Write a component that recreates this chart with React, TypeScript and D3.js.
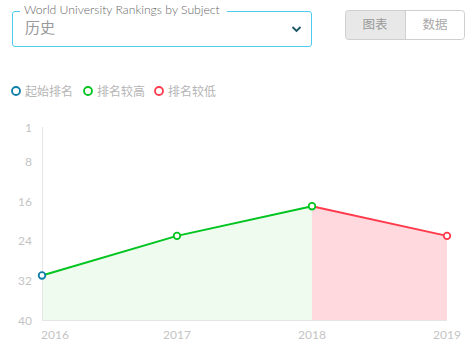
import React from "react";
import * as d3 from "d3";

const years = ["2016", "2017", "2018", "2019"];
const ranks = [31, 23, 17, 23];
const yTicks = [1, 8, 16, 24, 32, 40];
const legendLabels = ["起始排名", "排名较高", "排名较低"];
const legendColors = ["#0f7ea8", "#00c41f", "#ff3a4c"];

const FONT = "Lato, 'Noto Sans CJK SC', sans-serif";

export default function App() {
  const W = 476, H = 348;
  const x = d3.scalePoint<string>().domain(years).range([42, 447]);
  const y = d3.scaleLinear().domain([1, 40]).range([127, 320]);
  const baseline = y(40);

  const pts = years.map((yr, i) => ({ yr, v: ranks[i], x: x(yr) as number, y: y(ranks[i]) }));
  const segs = pts.slice(1).map((p, i) => {
    const a = pts[i];
    const up = p.v < a.v;
    return { a, b: p, up };
  });

  const line = d3.line<{ x: number; y: number }>().x(d => d.x).y(d => d.y);
  const area = d3.area<{ x: number; y: number }>().x(d => d.x).y0(baseline).y1(d => d.y);

  return (
    <svg width={W} height={H} style={{ position: "absolute", left: 0, top: 0, fontFamily: FONT }}>
      {/* dropdown */}
      <rect x={12.5} y={11.5} width={299} height={35} rx={2.5} fill="none" stroke="#4fcbed" strokeWidth={1} />
      <rect x={20} y={6} width={207} height={10} fill="#fff" />
      <text x={24} y={14} fontSize={12.2} fill="#666" fontWeight={300}>World University Rankings by Subject</text>
      <text x={25} y={33} fontSize={15} fill="#999">历史</text>
      <path d="M292.5,27 L296.5,31 L300.5,27" fill="none" stroke="#1b5566" strokeWidth={1.8} />

      {/* toggle buttons */}
      <path d="M405,10.5 L348.5,10.5 Q345.5,10.5 345.5,13.5 L345.5,36.5 Q345.5,39.5 348.5,39.5 L405,39.5 Z" fill="#e8e8e8" />
      <rect x={345.5} y={10.5} width={119} height={29} rx={3} fill="none" stroke="#cfcfcf" />
      <line x1={405.5} x2={405.5} y1={10.5} y2={39.5} stroke="#cfcfcf" />
      <text x={375} y={29} fontSize={12.5} fill="#999" textAnchor="middle">图表</text>
      <text x={435} y={29} fontSize={12.5} fill="#aaa" textAnchor="middle">数据</text>

      {/* legend */}
      {legendLabels.map((l, i) => {
        const cx = [16, 88, 159][i];
        return (
          <g key={l}>
            <circle cx={cx} cy={91} r={4} fill="#fff" stroke={legendColors[i]} strokeWidth={1.8} />
            <text x={cx + 9} y={95.5} fontSize={12} fill="#b5b5b5">{l}</text>
          </g>
        );
      })}

      {/* areas */}
      {segs.map((s, i) => (
        <path key={"a" + i} d={area([s.a, s.b]) || ""} fill={s.up ? "#effbee" : "#ffd9dd"} />
      ))}

      {/* axes */}
      <line x1={42.5} x2={42.5} y1={127} y2={baseline} stroke="#e6e6e6" />
      <line x1={42} x2={447} y1={baseline + 0.5} y2={baseline + 0.5} stroke="#e6e6e6" />
      {yTicks.map(t => (
        <text key={t} x={32} y={y(t) + 4.5} fontSize={12} fill="#c4c4c4" textAnchor="end">{t}</text>
      ))}
      {years.map((yr, i) => (
        <text key={yr} x={i === 0 ? 41 : (x(yr) as number)} y={339} fontSize={12} fill="#c4c4c4" textAnchor={i === 0 ? "start" : "middle"}>{yr}</text>
      ))}

      {/* lines */}
      {segs.map((s, i) => (
        <path key={"l" + i} d={line([s.a, s.b]) || ""} fill="none" stroke={s.up ? legendColors[1] : legendColors[2]} strokeWidth={2} />
      ))}

      {/* points */}
      {pts.map((p, i) => {
        const c = i === 0 ? legendColors[0] : segs[i - 1].up ? legendColors[1] : legendColors[2];
        return <circle key={p.yr} cx={p.x} cy={p.y} r={3.3} fill="#fff" stroke={c} strokeWidth={1.8} />;
      })}
    </svg>
  );
}
